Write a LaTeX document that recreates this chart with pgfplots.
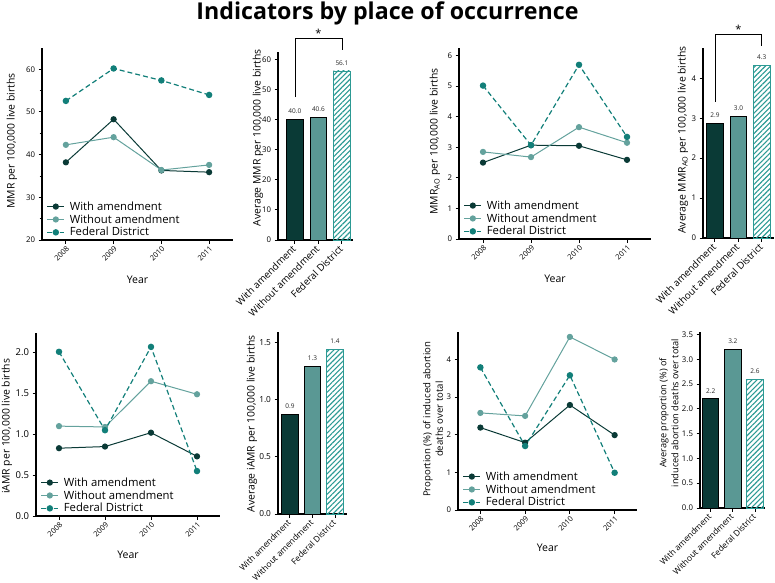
\documentclass[border=0pt]{standalone}
\usepackage{fontspec}
\setmainfont{Open Sans}
\usepackage{pgfplots}
\pgfplotsset{compat=1.18}
\usetikzlibrary{patterns.meta}

\definecolor{darkc}{HTML}{0A3A36}
\definecolor{lightc}{HTML}{64A29D}
\definecolor{tealc}{HTML}{127F79}
\definecolor{hatchc}{HTML}{2C9A94}
\definecolor{barmid}{HTML}{5A9894}

\pgfplotsset{
  gp/.style={
    scale only axis, anchor=south west,
    axis x line*=bottom, axis y line*=left,
    axis line style={line width=1.1pt},
    tick align=outside, major tick length=3.5pt, minor tick length=2.5pt,
    tick style={line width=1pt, black},
    tick label style={font=\fontsize{7.8}{8}\selectfont},
    label style={font=\fontsize{10.4}{12}\selectfont},
    /pgf/number format/assume math mode=true,
    /pgf/number format/1000 sep={},
    clip=false,
  },
  lineax/.style={
    gp, xmin=2007.5, xmax=2011.5, xtick={2008,2009,2010,2011},
    xticklabel style={rotate=45, anchor=north east, inner sep=1.5pt, font=\fontsize{7.5}{8}\selectfont},
    xlabel={Year},
    legend cell align=left,
    legend style={draw=none, fill=none, at={(rel axis cs:0,0)}, xshift=3.5pt, anchor=south west,
      font=\fontsize{11.3}{12}\selectfont, inner sep=1pt, row sep=0pt,
      nodes={inner sep=1.4pt},
      /tikz/every odd column/.append style={column sep=3.5pt}},
  },
  sA/.style={darkc, line width=1pt, mark=*, mark size=2.6pt, mark options={solid, fill=darkc}},
  sB/.style={lightc, line width=1pt, mark=*, mark size=2.6pt, mark options={solid, fill=lightc}},
  sC/.style={tealc, line width=1.2pt, dash pattern=on 5pt off 3pt, mark=*, mark size=2.6pt, mark options={solid, fill=tealc},
    legend image post style={dash pattern=on 4.5pt off 8pt on 4.5pt}},
  barax/.style={
    gp, xtick={0,1,2}, ymin=0,
    xticklabels={With amendment,Without amendment,Federal District},
    xticklabel style={rotate=45, anchor=east, inner sep=1pt, font=\fontsize{9.8}{10}\selectfont},
    xticklabel shift=3pt,
    nodes near coords, point meta=explicit symbolic,
    nodes near coords style={font=\fontsize{6.5}{7}\selectfont, color=black!85, anchor=south, yshift=2pt},
    bar width=16.5pt,
  },
  b1/.style={ybar, bar shift=0pt, fill=darkc, draw=black, line width=0.9pt},
  b2/.style={ybar, bar shift=0pt, fill=barmid, draw=black, line width=0.9pt},
  b3/.style={ybar, bar shift=0pt, pattern={Lines[angle=45,distance=3.6pt,line width=1.1pt]}, pattern color=hatchc, draw=hatchc, line width=0.9pt},
}

\begin{document}
\begin{tikzpicture}
\useasboundingbox (0,0) rectangle (775pt,582pt);

\node[font=\fontsize{23.2}{25}\selectfont\bfseries] at (387.5pt,569pt) {Indicators by place of occurrence};

% ---- top left: MMR
\begin{axis}[lineax, at={(42pt,342pt)}, width=191pt, height=192pt,
  ymin=20, ymax=65, ytick={20,30,40,50,60}, minor y tick num=1,
  ylabel={MMR per 100,000 live births},
  ylabel style={at={(axis description cs:-0.157,0.516)}, anchor=center},
  xlabel style={at={(axis description cs:0.5,-0.208)}, anchor=center, font=\fontsize{10.5}{11}\selectfont}]
\addplot[sA] coordinates {(2008,38.2) (2009,48.3) (2010,36.3) (2011,35.9)};
\addplot[sB] coordinates {(2008,42.3) (2009,44.1) (2010,36.4) (2011,37.6)};
\addplot[sC] coordinates {(2008,52.6) (2009,60.2) (2010,57.4) (2011,54.0)};
\legend{With amendment, Without amendment, Federal District}
\end{axis}

\begin{axis}[barax, at={(278pt,342pt)}, width=75pt, height=188pt,
  xmin=-0.72, xmax=2.47, ymax=62.4, ytick={0,10,20,30,40,50,60},
  ylabel={Average MMR per 100,000 live births},
  ylabel style={at={(axis description cs:-0.267,0.543)}, anchor=center}]
\addplot[b1] coordinates {(0,40.0) [40.0]};
\addplot[b2] coordinates {(1,40.6) [40.6]};
\addplot[b3] coordinates {(2,56.1) [56.1]};
\draw[line width=0.8pt] (axis cs:0,47.4) -- (axis cs:0,67) -- (axis cs:2,67) -- (axis cs:2,63.1);
\node[anchor=south, inner sep=0.5pt, font=\fontsize{11}{11}\selectfont] at (axis cs:1,67) {*};
\end{axis}

% ---- top right: MMR_AO
\begin{axis}[lineax, at={(459pt,343pt)}, width=192pt, height=191pt,
  ymin=0, ymax=6.25, ytick={0,1,2,3,4,5,6},
  ylabel={MMR\textsubscript{AO} per 100,000 live births},
  ylabel style={at={(axis description cs:-0.125,0.51)}, anchor=center},
  xlabel style={at={(axis description cs:0.5,-0.209)}, anchor=center, font=\fontsize{10.5}{11}\selectfont}]
\addplot[sA] coordinates {(2008,2.50) (2009,3.07) (2010,3.05) (2011,2.59)};
\addplot[sB] coordinates {(2008,2.85) (2009,2.68) (2010,3.66) (2011,3.15)};
\addplot[sC] coordinates {(2008,5.02) (2009,3.07) (2010,5.70) (2011,3.34)};
\legend{With amendment, Without amendment, Federal District}
\end{axis}

\begin{axis}[barax, at={(703pt,344pt)}, width=71pt, height=190pt,
  xmin=-0.51, xmax=2.52, ymax=4.76, ytick={0,1,2,3,4},
  ylabel={Average MMR\textsubscript{AO} per 100,000 live births},
  ylabel style={at={(axis description cs:-0.282,0.516)}, anchor=center}]
\addplot[b1] coordinates {(0,2.88) [2.9]};
\addplot[b2] coordinates {(1,3.04) [3.0]};
\addplot[b3] coordinates {(2,4.33) [4.3]};
\draw[line width=0.8pt] (axis cs:0,3.41) -- (axis cs:0,5.1) -- (axis cs:2,5.1) -- (axis cs:2,4.8);
\node[anchor=south, inner sep=0.5pt, font=\fontsize{11}{11}\selectfont] at (axis cs:1,5.1) {*};
\end{axis}

% ---- bottom left: iAMR
\begin{axis}[lineax, at={(36pt,66pt)}, width=184pt, height=183pt,
  ymin=0, ymax=2.24, ytick={0,0.5,1,1.5,2},
  yticklabel style={font=\fontsize{9.5}{10}\selectfont, /pgf/number format/.cd, fixed, fixed zerofill, precision=1},
  ylabel={iAMR per 100,000 live births},
  ylabel style={at={(axis description cs:-0.158,0.49)}, anchor=center},
  xlabel style={at={(axis description cs:0.5,-0.213)}, anchor=center, font=\fontsize{10.5}{11}\selectfont}]
\addplot[sA] coordinates {(2008,0.83) (2009,0.85) (2010,1.02) (2011,0.73)};
\addplot[sB] coordinates {(2008,1.10) (2009,1.09) (2010,1.65) (2011,1.49)};
\addplot[sC] coordinates {(2008,2.01) (2009,1.05) (2010,2.07) (2011,0.55)};
\legend{With amendment, Without amendment, Federal District}
\end{axis}

\begin{axis}[barax, at={(278pt,68pt)}, width=69pt, height=182pt,
  xmin=-0.53, xmax=2.53, ymax=1.594, ytick={0,0.5,1,1.5},
  xticklabel style={font=\fontsize{8.4}{9}\selectfont},
  yticklabel style={font=\fontsize{8.3}{9}\selectfont, /pgf/number format/.cd, fixed, fixed zerofill, precision=1},
  ylabel={Average iAMR per 100,000 live births},
  ylabel style={at={(axis description cs:-0.377,0.495)}, anchor=center}]
\addplot[b1] coordinates {(0,0.87) [0.9]};
\addplot[b2] coordinates {(1,1.29) [1.3]};
\addplot[b3] coordinates {(2,1.44) [1.4]};
\end{axis}

% ---- bottom right: proportion
\begin{axis}[lineax, at={(458pt,72pt)}, width=179pt, height=178pt,
  ymin=0, ymax=4.73, ytick={0,1,2,3,4},
  ylabel={Proportion (\%) of induced abortion\\deaths over total},
  ylabel style={at={(axis description cs:-0.14,0.51)}, anchor=center, align=center,
    font=\fontsize{9.6}{12.5}\selectfont},
  xlabel style={at={(axis description cs:0.5,-0.213)}, anchor=center, font=\fontsize{10.5}{11}\selectfont}]
\addplot[sA] coordinates {(2008,2.19) (2009,1.79) (2010,2.79) (2011,1.99)};
\addplot[sB] coordinates {(2008,2.58) (2009,2.50) (2010,4.60) (2011,4.00)};
\addplot[sC] coordinates {(2008,3.79) (2009,1.70) (2010,3.58) (2011,0.99)};
\legend{With amendment, Without amendment, Federal District}
\end{axis}

\begin{axis}[barax, at={(700pt,74pt)}, width=65pt, height=176pt,
  xmin=-0.48, xmax=2.45, ymax=3.55, ytick={0,0.5,1,1.5,2,2.5,3,3.5},
  xticklabel style={font=\fontsize{8.4}{9}\selectfont},
  yticklabel style={/pgf/number format/.cd, fixed, fixed zerofill, precision=1},
  ylabel={Average proportion (\%) of\\induced abortion deaths over total},
  ylabel style={at={(axis description cs:-0.477,0.54)}, anchor=center, align=center,
    font=\fontsize{9.2}{12}\selectfont}]
\addplot[b1] coordinates {(0,2.2) [2.2]};
\addplot[b2] coordinates {(1,3.2) [3.2]};
\addplot[b3] coordinates {(2,2.6) [2.6]};
\end{axis}

\end{tikzpicture}
\end{document}
